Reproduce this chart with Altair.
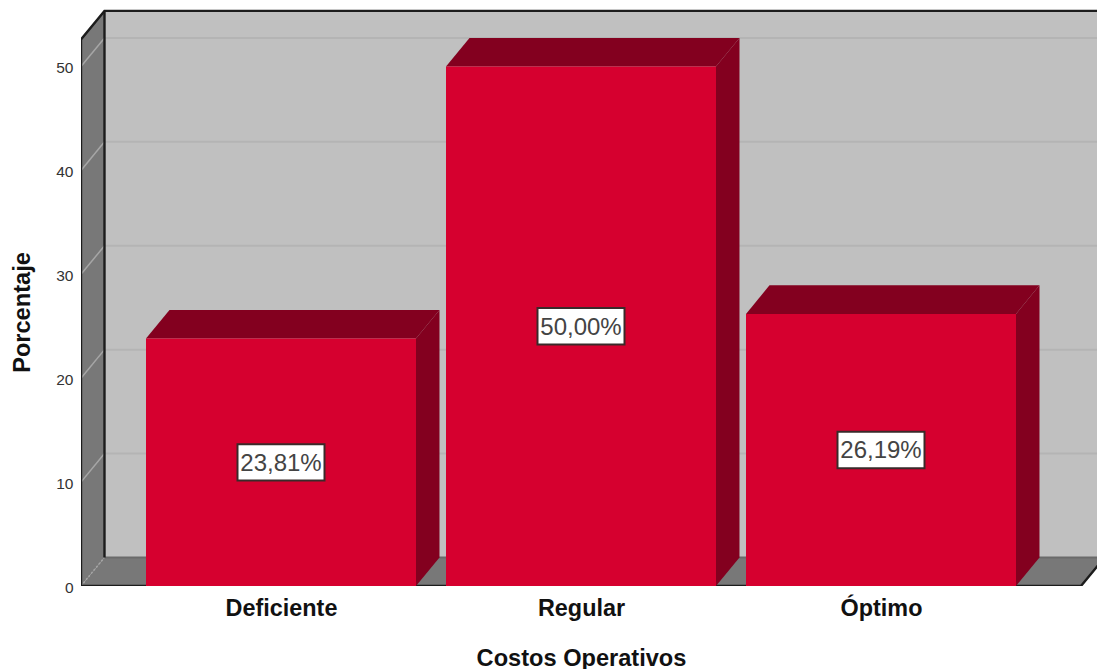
import json

import altair as alt
import pandas as pd

# Chart values
categories = ["Deficiente", "Regular", "Óptimo"]
percentages = [23.81, 50.00, 26.19]
y_ticks = [0, 10, 20, 30, 40, 50]

# Box geometry in data units (one x unit is the spacing between bars)
X_MIN, X_MAX = -2 / 3, 8 / 3
X_VIEW_MAX = 2.72
Y_TOP = 52.6
Y_VIEW_MAX = 55.92
DEPTH_X = 0.0783
DEPTH_Y = 2.75
BAR_HALF = 0.45
BOX_HALF_W = 0.145
BOX_HALF_H = 1.75

FONT = "Liberation Sans"
WALL = "#c0c0c0"
SIDE = "#787878"
GRID = "#b4b4b4"
GRID_SIDE = "#a6a6a6"
FRAME = "#1c1c1c"
FRONT = "#d6002f"
SHADE = "#83001f"

x_scale = alt.Scale(domain=[X_MIN, X_VIEW_MAX], nice=False, zero=False)
y_scale = alt.Scale(domain=[0, Y_VIEW_MAX], nice=False, zero=False)


def qx(field="x", **kw):
    return alt.X(f"{field}:Q", scale=x_scale, axis=None, **kw)


def qy(field="y", **kw):
    return alt.Y(f"{field}:Q", scale=y_scale, axis=None, **kw)


def rect(x0, x1, y0, y1, color, **mark):
    df = pd.DataFrame([{"x": x0, "x2": x1, "y": y0, "y2": y1}])
    return alt.Chart(df).mark_rect(color=color, clip=True, **mark).encode(
        x=qx(), x2="x2:Q", y=qy(), y2="y2:Q"
    )


def flat_face(x0, x1, y, color, **mark):
    # Parallelogram receding from a horizontal front edge: floor and bar tops
    df = pd.DataFrame([
        {"y": y, "a": x0, "b": x1},
        {"y": y + DEPTH_Y, "a": x0 + DEPTH_X, "b": x1 + DEPTH_X},
    ])
    return alt.Chart(df).mark_area(color=color, orient="horizontal", clip=True, **mark).encode(
        y=qy(), x=qx("a", stack=None), x2="b:Q"
    )


def side_face(x, y0, y1, color, **mark):
    # Parallelogram receding from a vertical front edge: left wall and bar sides
    df = pd.DataFrame([
        {"x": x, "a": y0, "b": y1},
        {"x": x + DEPTH_X, "a": y0 + DEPTH_Y, "b": y1 + DEPTH_Y},
    ])
    return alt.Chart(df).mark_area(color=color, orient="vertical", clip=True, **mark).encode(
        x=qx(), y=qy("a", stack=None), y2="b:Q"
    )


def segment(points, color, width, **mark):
    df = pd.DataFrame([{"x": p[0], "y": p[1], "i": i} for i, p in enumerate(points)])
    return alt.Chart(df).mark_line(color=color, strokeWidth=width, clip=True, **mark).encode(
        x=qx(), y=qy(), order="i:Q"
    )


layers = []

# Axes only: tick labels and titles, no marks of their own
names = json.dumps(categories, ensure_ascii=False)
axes = alt.Chart(pd.DataFrame({"x": [0, 1, 2], "y": [0, 0, 0]})).mark_point(opacity=0).encode(
    x=alt.X("x:Q", scale=x_scale, axis=alt.Axis(
        values=[0, 1, 2], labelExpr=f"{names}[datum.value]", title="Costos Operativos",
        domain=False, ticks=False, grid=False, labelFont=FONT, labelFontWeight="bold",
        labelFontSize=23.4, labelColor="#111111", labelPadding=11, titleFont=FONT,
        titleFontWeight="bold", titleFontSize=23.6, titleColor="#111111",
        titleX=500, titleY=60, labelOverlap=False, labelFlush=False,
    )),
    y=alt.Y("y:Q", scale=y_scale, axis=alt.Axis(
        values=y_ticks, title="Porcentaje", domain=False, ticks=False, grid=False,
        labelFont=FONT, labelFontSize=15.5, labelColor="#333333", labelPadding=8, labelOffset=1,
        titleFont=FONT, titleFontWeight="bold", titleFontSize=23.6, titleColor="#111111",
        titleX=-47, titleY=307, titleAngle=-90,
    )),
)
layers.append(axes)

# Back wall, left wall and floor
layers.append(rect(X_MIN + DEPTH_X, X_MAX + DEPTH_X, DEPTH_Y, Y_TOP + DEPTH_Y, WALL))
for t in y_ticks[1:]:
    layers.append(segment([(X_MIN + DEPTH_X, t + DEPTH_Y), (X_VIEW_MAX, t + DEPTH_Y)], GRID, 2))
layers.append(side_face(X_MIN, 0, Y_TOP, SIDE))
for t in y_ticks[1:]:
    layers.append(segment([(X_MIN, t), (X_MIN + DEPTH_X, t + DEPTH_Y)], GRID_SIDE, 1.5))
layers.append(flat_face(X_MIN, X_MAX, 0, SIDE))
layers.append(segment([(X_MIN, 0), (X_MIN + DEPTH_X, DEPTH_Y)], GRID_SIDE, 1.5, strokeDash=[2, 2]))
layers.append(segment([(X_MIN + DEPTH_X, DEPTH_Y), (X_VIEW_MAX, DEPTH_Y)], "#6a6a6a", 2))

# Frame edges
layers.append(segment([(X_MIN, 0), (X_MIN, Y_TOP), (X_MIN + DEPTH_X, Y_TOP + DEPTH_Y),
                       (X_VIEW_MAX, Y_TOP + DEPTH_Y)], FRAME, 2.4))
layers.append(segment([(X_MIN + DEPTH_X, DEPTH_Y), (X_MIN + DEPTH_X, Y_TOP + DEPTH_Y)], FRAME, 2.4))
layers.append(segment([(X_MIN, 0), (X_MAX, 0), (X_MAX + DEPTH_X, DEPTH_Y)], FRAME, 2.4))

# Bars: side, top and front faces
for i, v in enumerate(percentages):
    layers.append(side_face(i + BAR_HALF, 0, v, SHADE))
    layers.append(flat_face(i - BAR_HALF, i + BAR_HALF, v, SHADE))
    layers.append(rect(i - BAR_HALF, i + BAR_HALF, 0, v, FRONT))

# Value labels in white boxes at mid-height of each bar
labels = pd.DataFrame({
    "x": range(len(percentages)),
    "value": percentages,
    "text": [f"{v:.2f}".replace(".", ",") + "%" for v in percentages],
})
labels["mid"] = labels["value"] / 2
labels["x0"] = labels["x"] - BOX_HALF_W
labels["x1"] = labels["x"] + BOX_HALF_W
labels["y0"] = labels["mid"] - BOX_HALF_H
labels["y1"] = labels["mid"] + BOX_HALF_H
boxes = alt.Chart(labels).mark_rect(color="white", stroke="#3a2a2a", strokeWidth=2).encode(
    x=qx("x0"), x2="x1:Q", y=qy("y0"), y2="y1:Q"
)
texts = alt.Chart(labels).mark_text(
    font=FONT, fontSize=24, color="#444444", baseline="middle", align="center", dy=1.5
).encode(x=qx(), y=qy("mid"), text="text:N")
layers += [boxes, texts]

chart = alt.layer(*layers).resolve_scale(x="shared", y="shared").resolve_axis(
    x="independent", y="independent"
).properties(
    width=1016,
    height=581,
    padding={"left": 81, "top": 5, "right": 0, "bottom": 83},
    autosize=alt.AutoSizeParams(type="none"),
    background="white",
).configure_view(stroke=None)

chart.save("out.html", embed_options={"renderer": "svg", "actions": False})
